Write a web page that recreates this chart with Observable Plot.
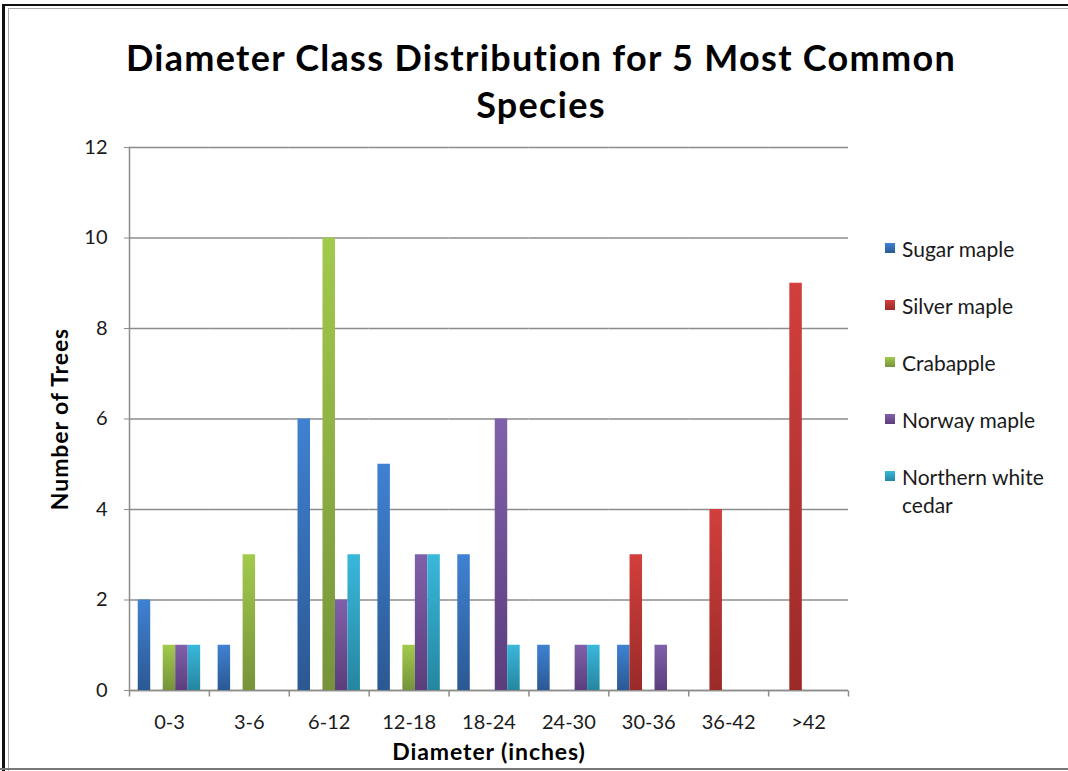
<!DOCTYPE html>
<html><head><meta charset="utf-8">
<script src="https://cdn.jsdelivr.net/npm/d3@7"></script>
<script src="https://cdn.jsdelivr.net/npm/@observablehq/plot@0.6"></script>
<style>
body{margin:0;background:#fff;}
#wrap{position:relative;width:1068px;height:771px;overflow:hidden;font-family:Lato, "Open Sans", sans-serif;background:#fff;}
.ln{position:absolute;}
#title{position:absolute;left:0;width:1082px;top:34px;text-align:center;font-weight:bold;font-size:36px;letter-spacing:1.3px;line-height:47px;color:#000;}
#chart{position:absolute;left:0;top:0;width:1068px;}
#legend{position:absolute;left:885px;top:235px;font-size:21px;color:#1a1a1a;}
.item{position:relative;padding-left:17px;line-height:28px;width:170px;margin-bottom:29px;}
.sw{position:absolute;left:0;top:8px;width:10px;height:10px;}
#chart svg text{fill:#1a1a1a;}
#chart g[aria-label="y-axis label"] text, #chart g[aria-label="fx-axis label"] text{font-weight:bold;font-size:23px;letter-spacing:0.9px;fill:#000;}
</style></head><body>
<div id="wrap">
  <div class="ln" style="left:2px;top:4px;width:1066px;height:2px;background:#111;"></div>
  <div class="ln" style="left:2px;top:4px;width:3px;height:767px;background:#111;"></div>
  <div class="ln" style="left:8px;top:8px;width:1060px;height:1px;background:#aaa;"></div>
  <div class="ln" style="left:8px;top:8px;width:1px;height:763px;background:#aaa;"></div>
  <div class="ln" style="left:0px;top:768px;width:1068px;height:2px;background:#777;"></div>
  <div id="chart"></div>
  <div id="title">Diameter Class Distribution for 5 Most Common<br>Species</div>
  <div id="legend"></div>
</div>
<script>
const categories = ["0-3", "3-6", "6-12", "12-18", "18-24", "24-30", "30-36", "36-42", ">42"];
const species = ["Sugar maple", "Silver maple", "Crabapple", "Norway maple", "Northern white cedar"];
const sugarMaple   = [2, 1, 6, 5, 3, 1, 1, 0, 0];
const silverMaple  = [0, 0, 0, 0, 0, 0, 3, 4, 9];
const crabapple    = [1, 3, 10, 1, 0, 0, 0, 0, 0];
const norwayMaple  = [1, 0, 2, 3, 6, 1, 1, 0, 0];
const cedar        = [1, 0, 3, 3, 1, 1, 0, 0, 0];
const yTicks = [0, 2, 4, 6, 8, 10, 12];
const topColors = ["#3f82d2", "#d23f3c", "#a2ca4c", "#8160ab", "#39b8dc"];
const bottomColors = ["#2b5893", "#9a2a28", "#76933a", "#5c3d7c", "#25869f"];

const seriesValues = [sugarMaple, silverMaple, crabapple, norwayMaple, cedar];
const rows = [];
species.forEach((s, si) => categories.forEach((c, ci) => {
  rows.push({category: c, species: s, value: seriesValues[si][ci], grad: "url(#grad" + si + ")"});
}));
const bars = rows.filter(d => d.value > 0);

const tickSymbol = {draw(ctx, size) { ctx.moveTo(0, 0); ctx.lineTo(0, 6); }};
const axisGray = "#8c8c8c";

const chart = Plot.plot({
  width: 1068,
  height: 771,
  marginLeft: 129,
  marginRight: 220,
  marginTop: 147,
  marginBottom: 81,
  style: {fontFamily: "Lato, 'Open Sans', sans-serif", fontSize: "20px", background: "transparent", overflow: "visible"},
  fx: {domain: categories, padding: 0, round: false},
  x: {domain: species, paddingInner: 0, paddingOuter: 0.7, round: false, axis: null},
  y: {domain: [0, 12], ticks: yTicks},
  marks: [
    Plot.gridY(yTicks, {stroke: axisGray, strokeOpacity: 1, strokeWidth: 1.5}),
    Plot.frame({anchor: "left", facetAnchor: "left", stroke: axisGray, strokeWidth: 1.5}),
    Plot.ruleY([0], {stroke: axisGray, strokeWidth: 1.5}),
    Plot.dot([0], {frameAnchor: "bottom-left", symbol: tickSymbol, r: 4, stroke: axisGray, strokeWidth: 1.5, fill: "none"}),
    Plot.dot([0], {frameAnchor: "bottom-right", facetAnchor: "right", symbol: tickSymbol, r: 4, stroke: axisGray, strokeWidth: 1.5, fill: "none"}),
    Plot.barY(bars, {fx: "category", x: "species", y: "value", fill: "grad", inset: 0}),
    Plot.axisY(yTicks, {tickSize: 5, tickPadding: 17, stroke: axisGray, label: "Number of Trees", labelAnchor: "center", labelArrow: "none", labelOffset: 78}),
    Plot.axisFx({anchor: "bottom", tickSize: 0, tickPadding: 24, label: "Diameter (inches)", labelAnchor: "center", labelArrow: "none", labelOffset: 69})
  ]
});

// gradients referenced by the bar fills
const ns = "http://www.w3.org/2000/svg";
const defs = document.createElementNS(ns, "defs");
species.forEach((s, i) => {
  const g = document.createElementNS(ns, "linearGradient");
  g.setAttribute("id", "grad" + i);
  g.setAttribute("x1", "0"); g.setAttribute("y1", "0");
  g.setAttribute("x2", "0"); g.setAttribute("y2", "1");
  [[0, topColors[i]], [1, bottomColors[i]]].forEach(([o, c]) => {
    const st = document.createElementNS(ns, "stop");
    st.setAttribute("offset", o); st.setAttribute("stop-color", c);
    g.appendChild(st);
  });
  defs.appendChild(g);
});
chart.insertBefore(defs, chart.firstChild);
document.getElementById("chart").appendChild(chart);

const legend = document.getElementById("legend");
species.forEach((s, i) => {
  const it = document.createElement("div");
  it.className = "item";
  const sw = document.createElement("span");
  sw.className = "sw";
  sw.style.background = `linear-gradient(${topColors[i]}, ${bottomColors[i]})`;
  it.appendChild(sw);
  const t = document.createElement("span");
  t.textContent = s;
  it.appendChild(t);
  legend.appendChild(it);
});
</script>
</body></html>
